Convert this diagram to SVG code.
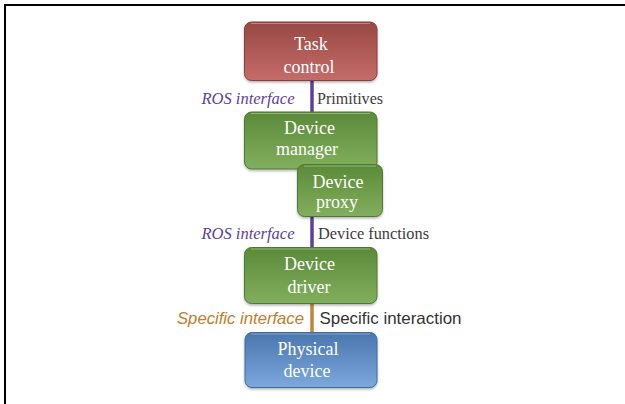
<svg xmlns="http://www.w3.org/2000/svg" width="625" height="404" viewBox="0 0 625 404">
<style>
.box{stroke-width:1}
.bt{font-family:"Liberation Serif","Times New Roman",serif;font-size:18px;fill:#ffffff;text-anchor:middle}
.ros{font-family:"Liberation Serif","Times New Roman",serif;font-size:16px;font-style:italic;fill:#5b3f9b}
.lab{font-family:"Liberation Serif","Times New Roman",serif;font-size:16px;fill:#3c3c3c}
.spi{font-family:"Liberation Sans",Arial,sans-serif;font-size:16.5px;font-style:italic;fill:#c27c2c}
.sp{font-family:"Liberation Sans",Arial,sans-serif;font-size:16.5px;fill:#333333}
.hl{fill:none;stroke:#ffffff;stroke-opacity:0.35;stroke-width:1}
</style>
<defs>
<linearGradient id="gRed" x1="0" y1="0" x2="0" y2="1">
<stop offset="0" stop-color="#984844"/><stop offset="1" stop-color="#c56c68"/>
</linearGradient>
<linearGradient id="gGreen" x1="0" y1="0" x2="0" y2="1">
<stop offset="0" stop-color="#5a8a38"/><stop offset="1" stop-color="#82af5e"/>
</linearGradient>
<linearGradient id="gBlue" x1="0" y1="0" x2="0" y2="1">
<stop offset="0" stop-color="#4a76ae"/><stop offset="1" stop-color="#7ca8de"/>
</linearGradient>
<filter id="sh" x="-10%" y="-10%" width="120%" height="130%">
<feDropShadow dx="0" dy="1.5" stdDeviation="1.2" flood-color="#000" flood-opacity="0.3"/>
</filter>
</defs>
<rect width="625" height="404" fill="#ffffff"/>
<path d="M5,404 V5 H625" fill="none" stroke="#000000" stroke-width="2"/>
<g id="connectors">
<line x1="312" y1="80" x2="312" y2="112" stroke="#5b3f9b" stroke-width="3.5"/>
<line x1="312" y1="216" x2="312" y2="248" stroke="#5b3f9b" stroke-width="3.5"/>
<line x1="312" y1="303" x2="312" y2="333" stroke="#c4843a" stroke-width="3.5"/>
<text class="ros" x="201.5" y="103.5" textLength="93" lengthAdjust="spacingAndGlyphs">ROS interface</text>
<text class="lab" x="317" y="103.5" textLength="66" lengthAdjust="spacingAndGlyphs">Primitives</text>
<text class="ros" x="201.5" y="238.5" textLength="93" lengthAdjust="spacingAndGlyphs">ROS interface</text>
<text class="lab" x="318" y="238.5" textLength="111" lengthAdjust="spacingAndGlyphs">Device functions</text>
<text class="spi" x="177" y="324" textLength="127" lengthAdjust="spacingAndGlyphs">Specific interface</text>
<text class="sp" x="319.5" y="324" textLength="142" lengthAdjust="spacingAndGlyphs">Specific interaction</text>
</g>
<g id="task-control">
<rect x="244.5" y="22" width="132.5" height="58.5" rx="7" fill="url(#gRed)" stroke="#8a3e3a" filter="url(#sh)"/>
<path class="hl" d="M251,23.5 H370"/>
<text class="bt" x="311" y="50">Task</text>
<text class="bt" x="309" y="73">control</text>
</g>
<g id="device-manager">
<rect x="244.5" y="112" width="132.5" height="57" rx="7" fill="url(#gGreen)" stroke="#4e7a30" filter="url(#sh)"/>
<path class="hl" d="M251,113.5 H370"/>
<text class="bt" x="309.5" y="134">Device</text>
<text class="bt" x="307" y="155">manager</text>
</g>
<g id="device-proxy">
<rect x="297.5" y="164.5" width="85" height="52" rx="7" fill="url(#gGreen)" stroke="#4e7a30" filter="url(#sh)"/>
<path class="hl" d="M304,166 H376"/>
<text class="bt" x="338" y="188">Device</text>
<text class="bt" x="337" y="208">proxy</text>
</g>
<g id="device-driver">
<rect x="244.5" y="247.5" width="132.5" height="56" rx="7" fill="url(#gGreen)" stroke="#4e7a30" filter="url(#sh)"/>
<path class="hl" d="M251,249 H370"/>
<text class="bt" x="309.5" y="270">Device</text>
<text class="bt" x="309" y="293">driver</text>
</g>
<g id="physical-device">
<rect x="245" y="332.5" width="132" height="55" rx="7" fill="url(#gBlue)" stroke="#406aa0" filter="url(#sh)"/>
<path class="hl" d="M251,334 H370"/>
<text class="bt" x="308" y="355">Physical</text>
<text class="bt" x="307" y="377">device</text>
</g>
</svg>
